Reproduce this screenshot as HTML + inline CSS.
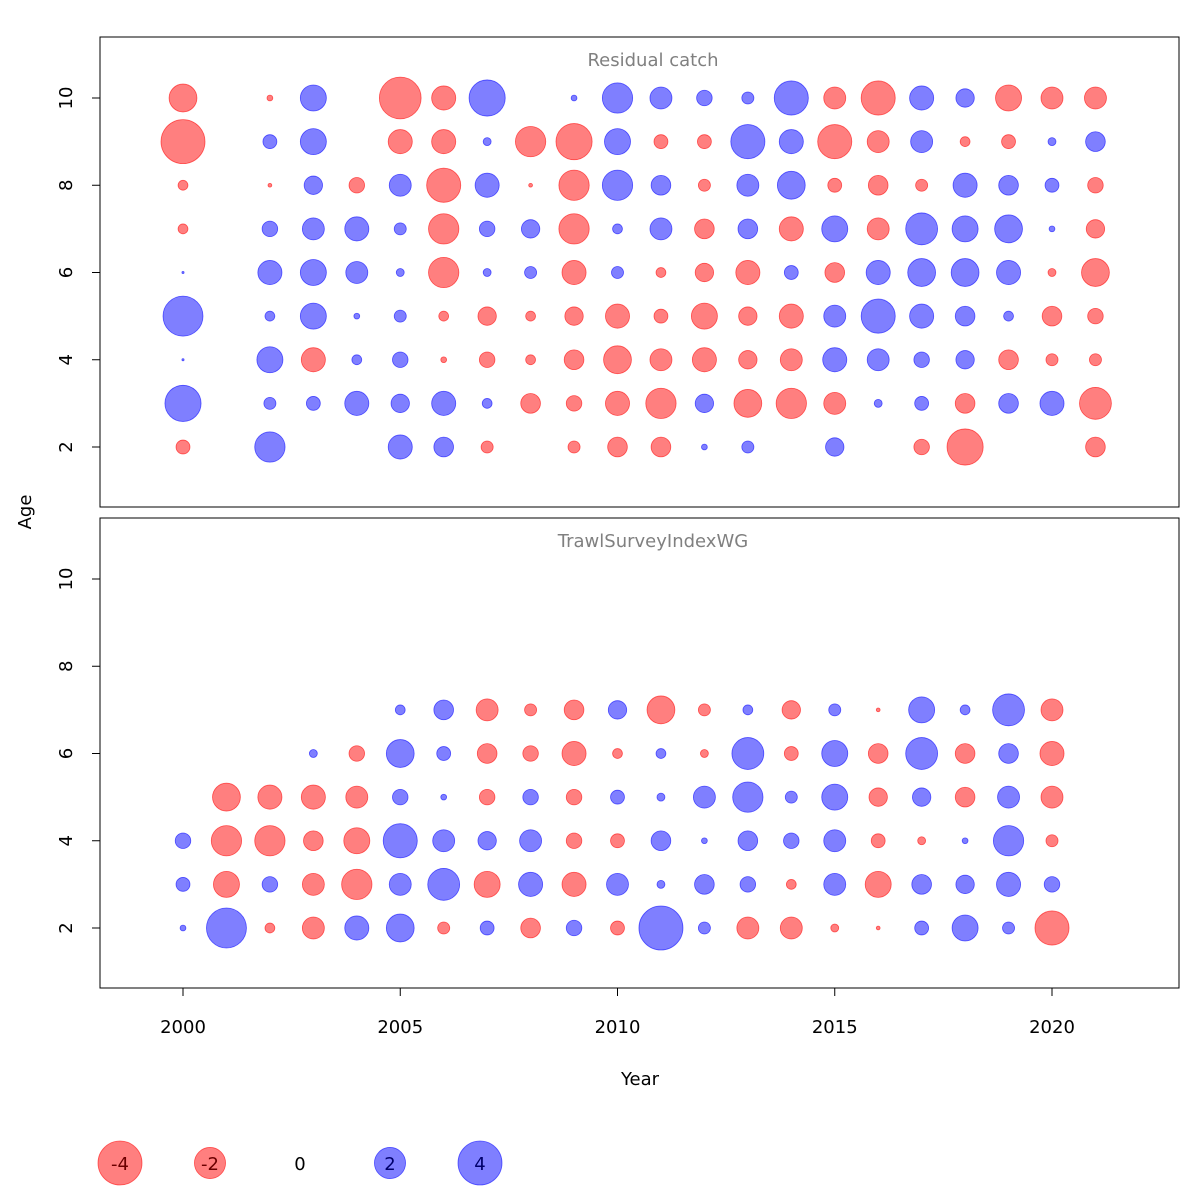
<!DOCTYPE html>
<html><head><meta charset="utf-8"><style>
body{margin:0;background:#fff;}
svg{display:block;font-family:"DejaVu Sans","Liberation Sans",sans-serif;}
</style></head><body>
<svg id="chart" width="1200" height="1200" viewBox="0 0 1200 1200">
<rect width="1200" height="1200" fill="#fff"/>
<g id="axes"></g>
<g id="marks"></g>
<g id="legend"></g>
</svg>
<script>
// Years and ages
const catchYears = [2000,2001,2002,2003,2004,2005,2006,2007,2008,2009,2010,2011,2012,2013,2014,2015,2016,2017,2018,2019,2020,2021];
const catchAges = [2,3,4,5,6,7,8,9,10];
// residual catch, per year, ages 2..10 (null = missing)
const catchResiduals = [
 [-0.4,2.7,0.01,3.3,0.01,-0.2,-0.2,-4,-1.6],
 [null,null,null,null,null,null,null,null,null],
 [1.9,0.3,1.4,0.2,1.2,0.5,-0.03,0.4,-0.07],
 [null,0.4,-1.2,1.4,1.4,1.0,0.7,1.4,1.4],
 [null,1.2,0.2,0.07,1.0,1.2,-0.5,null,null],
 [1.2,0.7,0.5,0.3,0.13,0.3,1.0,-1.2,-3.6],
 [0.8,1.2,-0.07,-0.2,-1.9,-1.9,-2.4,-1.2,-1.2],
 [-0.3,0.2,-0.5,-0.7,0.13,0.5,1.2,0.13,2.7],
 [null,-0.8,-0.2,-0.2,0.3,0.7,-0.03,-1.9,null],
 [-0.3,-0.5,-0.8,-0.7,-1.2,-1.9,-1.9,-2.7,0.07],
 [-0.8,-1.2,-1.6,-1.2,0.3,0.2,1.9,1.4,1.9],
 [-0.8,-1.9,-1.0,-0.4,-0.2,1.0,0.8,-0.4,1.0],
 [0.07,0.7,-1.2,-1.4,-0.7,-0.8,-0.3,-0.4,0.5],
 [0.3,-1.6,-0.7,-0.7,-1.2,0.8,1.0,2.4,0.3],
 [null,-1.9,-1.0,-1.2,0.4,-1.2,1.6,1.2,2.4],
 [0.7,-1.0,1.2,1.0,-0.8,1.4,-0.4,-2.4,-1.0],
 [null,0.13,1.0,2.4,1.2,-1.0,-0.8,-1.0,-2.4],
 [-0.5,0.4,0.5,1.2,1.6,2.1,-0.3,1.0,1.2],
 [-2.7,-0.8,0.7,0.8,1.6,1.4,1.2,-0.2,0.7],
 [null,0.8,-0.8,0.2,1.2,1.6,0.8,-0.4,-1.4],
 [null,1.2,-0.3,-0.8,-0.13,0.07,0.4,0.13,-1.0],
 [-0.8,-2.1,-0.3,-0.5,-1.6,-0.7,-0.5,0.8,-1.0]
];
const surveyYears = [2000,2001,2002,2003,2004,2005,2006,2007,2008,2009,2010,2011,2012,2013,2014,2015,2016,2017,2018,2019,2020];
const surveyAges = [2,3,4,5,6,7];
const surveyResiduals = [
 [0.07,0.4,0.5,null,null,null],
 [3.3,-1.4,-1.9,-1.6,null,null],
 [-0.2,0.5,-1.9,-1.2,null,null],
 [-1.0,-1.0,-0.8,-1.2,0.13,null],
 [1.2,-1.9,-1.4,-1.0,-0.5,null],
 [1.6,1.0,2.4,0.5,1.6,0.2],
 [-0.3,2.1,1.0,0.07,0.4,0.8],
 [0.4,-1.4,0.7,-0.5,-0.8,-1.0],
 [-0.8,1.2,1.0,0.5,-0.5,-0.3],
 [0.5,-1.2,-0.5,-0.5,-1.2,-0.8],
 [-0.4,1.0,-0.4,0.4,-0.2,0.7],
 [4.0,0.13,0.8,0.13,0.2,-1.6],
 [0.3,0.8,0.07,1.0,-0.13,-0.3],
 [-1.0,0.5,0.8,1.9,2.1,0.2],
 [-1.0,-0.2,0.5,0.3,-0.4,-0.7],
 [-0.13,1.0,1.0,1.4,1.4,0.3],
 [-0.03,-1.4,-0.4,-0.7,-0.8,-0.03],
 [0.4,0.8,-0.13,0.7,2.1,1.4],
 [1.4,0.7,0.07,-0.8,-0.8,0.2],
 [0.3,1.2,1.9,1.0,0.8,2.1],
 [-2.4,0.5,-0.3,-1.0,-1.2,-1.0]
];
const xTicks = [2000,2005,2010,2015,2020];
const yTicks = [2,4,6,8,10];
const legendValues = [-4,-2,0,2,4];

const NS="http://www.w3.org/2000/svg";
function mk(tag,attrs,parent,text){const e=document.createElementNS(NS,tag);for(const k in attrs)e.setAttribute(k,attrs[k]);if(text!==undefined)e.textContent=text;parent.appendChild(e);return e;}
const X0=100,X1=1179;
const xScale=y=>183+(y-2000)*(1052-183)/20;
const panels=[{top:37,bottom:507,title:"Residual catch",name:"catch"},{top:518,bottom:988,title:"TrawlSurveyIndexWG",name:"survey"}];
const yScale=(p,a)=>(p.top+410)-(a-2)*(349/8);
const rScale=v=>11*Math.sqrt(Math.abs(v));
const axes=document.getElementById('axes'),marks=document.getElementById('marks'),legend=document.getElementById('legend');

panels.forEach(p=>{
 const fr=mk('rect',{x:X0,y:p.top,width:X1-X0,height:p.bottom-p.top,fill:'none',stroke:'#000','stroke-width':1},axes);
 
 
 const t=mk('text',{x:653,y:p.top+29,'text-anchor':'middle','font-size':18,fill:'#808080'},axes,p.title);
 
 
 yTicks.forEach(a=>{
  const y=yScale(p,a);
  mk('line',{x1:X0,x2:X0-8,y1:y,y2:y,stroke:'#000'},axes);
  const lb=mk('text',{x:72,y:y,'text-anchor':'middle','font-size':18,transform:`rotate(-90 72 ${y})`},axes,String(a));
  
  
 });
});
xTicks.forEach(yr=>{
 const x=xScale(yr);
 mk('line',{x1:x,x2:x,y1:988,y2:996,stroke:'#000'},axes);
 const lb=mk('text',{x:x,y:1033,'text-anchor':'middle','font-size':18},axes,String(yr));
 
 
});
const xt=mk('text',{x:640,y:1085,'text-anchor':'middle','font-size':18},axes,'Year');


const yt=mk('text',{x:31,y:512,'text-anchor':'middle','font-size':18,transform:'rotate(-90 31 512)'},axes,'Age');



function bubble(cx,cy,v,parent){
 if(v===null||v===undefined)return null;
 const neg=v<0;
 return mk('circle',{cx:cx,cy:cy,r:rScale(v),fill:neg?'rgba(255,0,0,0.5)':'rgba(0,0,255,0.5)',stroke:neg?'rgba(255,0,0,0.6)':'rgba(0,0,255,0.6)','stroke-width':0.8},parent);
}
catchYears.forEach((yr,i)=>catchAges.forEach((a,j)=>{
 const c=bubble(xScale(yr),yScale(panels[0],a),catchResiduals[i][j],marks);
 if(c){
 }
}));
surveyYears.forEach((yr,i)=>surveyAges.forEach((a,j)=>{
 const c=bubble(xScale(yr),yScale(panels[1],a),surveyResiduals[i][j],marks);
 if(c){
 }
}));
legendValues.forEach((v,i)=>{
 const x=120+i*90,y=1163;
 if(v!==0){const c=bubble(x,y,v,legend);
 
 }
 const t=mk('text',{x:x,y:y+7,'text-anchor':'middle','font-size':18,fill:v<0?'#6b0000':(v>0?'#00006b':'#000')},legend,String(v));
 
 
});
</script>
</body></html>
